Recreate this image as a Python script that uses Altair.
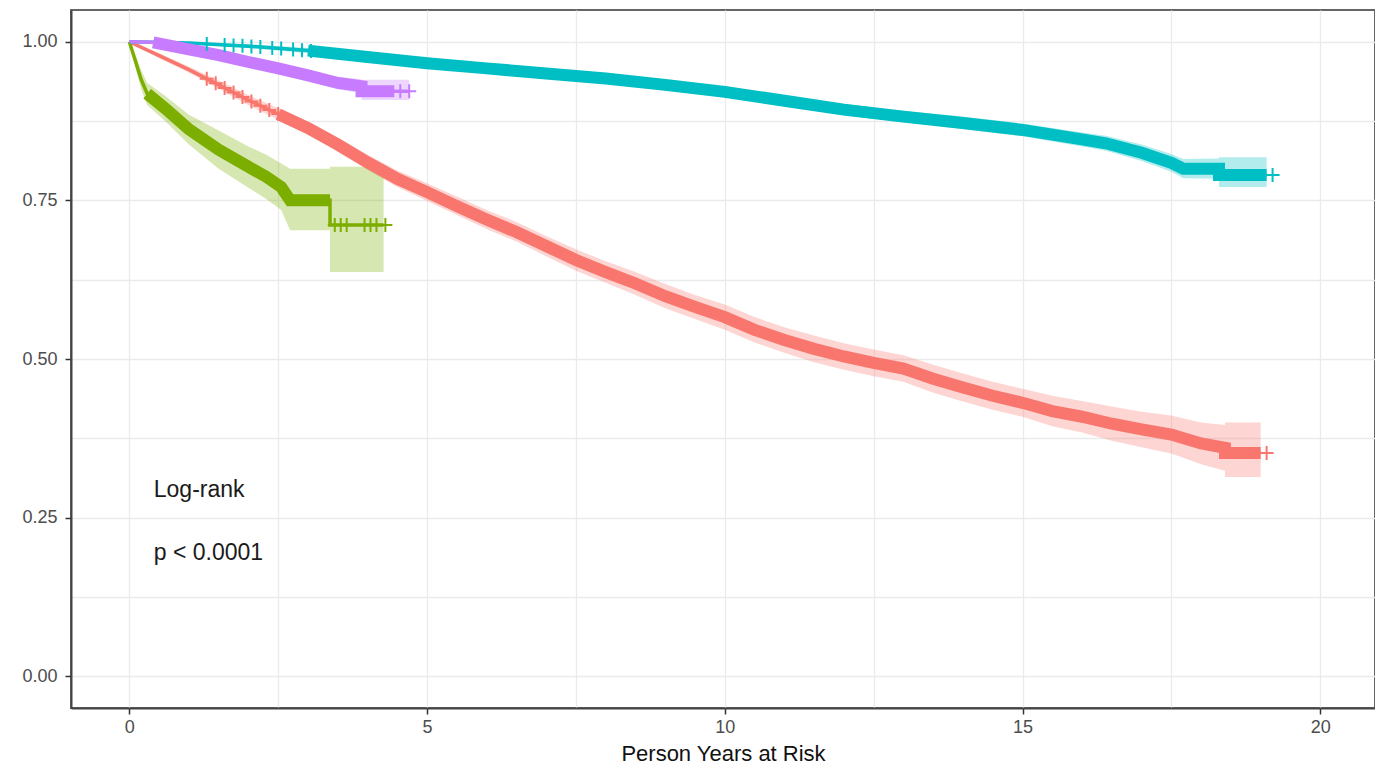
import altair as alt
import pandas as pd
import numpy as np

GROUPS = ["Group 1", "Group 2", "Group 3", "Group 4"]
COLORS = ["#F8766D", "#7CAE00", "#00BFC4", "#C77CFF"]

# Group 1 (red)
g1_time = [0, 0.5, 1, 1.5, 2, 2.5, 3, 3.5, 4, 4.5, 5, 5.5, 6, 6.5, 7, 7.5, 8, 8.5, 9, 9.5,
           10, 10.5, 11, 11.5, 12, 12.5, 13, 13.5, 14, 14.5, 15, 15.5, 16, 16.5, 17, 17.5,
           18, 18.4, 18.4, 19.0]
g1_surv = [1.0, .978, .956, .932, .908, .886, .864, .838, .810, .784, .763, .741, .720, .700,
           .678, .656, .637, .619, .599, .582, .566, .546, .530, .516, .504, .494, .485, .469,
           .455, .442, .431, .418, .409, .398, .389, .381, .367, .360, .352, .352]
g1_lower = [1.0, .974, .951, .926, .900, .877, .854, .827, .798, .771, .749, .727, .705, .685,
            .662, .639, .620, .601, .580, .563, .546, .526, .510, .495, .483, .473, .464, .447,
            .433, .420, .409, .394, .384, .371, .361, .351, .334, .324, .314, .314]
g1_upper = [1.0, .982, .961, .939, .916, .895, .874, .849, .822, .797, .777, .756, .735, .716,
            .694, .673, .654, .637, .618, .601, .586, .566, .550, .537, .525, .515, .506, .491,
            .477, .464, .453, .442, .434, .425, .417, .411, .400, .396, .400, .400]

# Group 2 (green)
g2_time = [0, 0.1, 0.2, 0.3, 0.6, 1.0, 1.5, 2.0, 2.3, 2.55, 2.7, 3.37, 3.37, 4.27]
g2_surv = [1.0, 0.970, 0.940, 0.918, 0.895, 0.862, 0.830, 0.803, 0.787, 0.771, 0.750, 0.750, 0.711, 0.711]
g2_lower = [1.0, 0.960, 0.925, 0.900, 0.875, 0.838, 0.800, 0.770, 0.752, 0.735, 0.703, 0.703, 0.637, 0.637]
g2_upper = [1.0, 0.980, 0.955, 0.935, 0.915, 0.885, 0.860, 0.835, 0.822, 0.808, 0.800, 0.800, 0.803, 0.803]

# Group 3 (teal)
g3_time = [0, 1, 2, 3, 4, 5, 6, 7, 8, 9, 10, 11, 12, 13, 14, 15, 16, 16.4, 17, 17.5, 17.7,
           18.3, 18.3, 19.1]
g3_surv = [1.0, 0.998, 0.993, 0.986, 0.976, 0.966, 0.958, 0.950, 0.942, 0.932, 0.921, 0.907,
           0.893, 0.882, 0.872, 0.861, 0.846, 0.840, 0.825, 0.809, 0.800, 0.800, 0.790, 0.790]
g3_lower = [1.0, 0.996, 0.990, 0.982, 0.971, 0.961, 0.952, 0.944, 0.935, 0.925, 0.913, 0.899,
            0.884, 0.873, 0.862, 0.851, 0.835, 0.828, 0.812, 0.795, 0.785, 0.784, 0.771, 0.771]
g3_upper = [1.0, 1.0, 0.996, 0.990, 0.981, 0.971, 0.964, 0.956, 0.949, 0.939, 0.929, 0.915,
            0.902, 0.891, 0.882, 0.871, 0.857, 0.852, 0.838, 0.823, 0.815, 0.816, 0.818, 0.818]

# Group 4 (purple)
g4_time = [0, 0.4, 1.0, 1.5, 2.0, 2.5, 3.0, 3.5, 3.9, 3.9, 4.45, 4.7]
g4_surv = [1.0, 0.999, 0.988, 0.979, 0.968, 0.958, 0.947, 0.935, 0.930, 0.922, 0.922, 0.922]
g4_lower = [1.0, 0.996, 0.983, 0.973, 0.961, 0.950, 0.938, 0.925, 0.919, 0.908, 0.908, 0.908]
g4_upper = [1.0, 1.0, 0.993, 0.985, 0.975, 0.966, 0.956, 0.945, 0.941, 0.940, 0.940, 0.940]

# censoring times drawn as separate "+" marks (sparse parts of the curves)
g1_censor = [1.3, 1.45, 1.6, 1.75, 1.9, 2.05, 2.2, 2.35, 2.5, 19.1]
g2_censor = [3.45, 3.55, 3.65, 3.95, 4.05, 4.15, 4.3]
g3_censor = [1.3, 1.6, 1.75, 1.9, 2.05, 2.2, 2.4, 2.55, 2.75, 2.9, 3.05, 19.2]
g4_censor = [4.55, 4.7]

# time spans where censor marks are so dense that the curve looks like a thick band
dense_spans = {"Group 1": (2.5, 19.0), "Group 2": (0.3, 3.37),
               "Group 3": (3.0, 19.1), "Group 4": (0.4, 4.45)}

x_ticks = [0, 2.5, 5, 7.5, 10, 12.5, 15, 17.5, 20]
y_ticks = [0, 0.125, 0.25, 0.375, 0.5, 0.625, 0.75, 0.875, 1.0]


def frame(name, t, s, lo, hi):
    return pd.DataFrame({"group": name, "time": t, "surv": s, "lower": lo,
                         "upper": hi, "order": list(range(len(t)))})


curves = pd.concat([
    frame("Group 1", g1_time, g1_surv, g1_lower, g1_upper),
    frame("Group 2", g2_time, g2_surv, g2_lower, g2_upper),
    frame("Group 3", g3_time, g3_surv, g3_lower, g3_upper),
    frame("Group 4", g4_time, g4_surv, g4_lower, g4_upper),
], ignore_index=True)

parts = []
for g, (a, b) in dense_spans.items():
    d = curves[(curves.group == g) & (curves.time >= a) & (curves.time <= b)]
    if len(d) > 1 and d.time.iloc[-1] == d.time.iloc[-2]:
        d = d.iloc[:-1]
    parts.append(d)
thick = pd.concat(parts, ignore_index=True)

cens_rows = []
for g, times in zip(GROUPS, [g1_censor, g2_censor, g3_censor, g4_censor]):
    c = curves[curves.group == g]
    ys = np.interp(times, c.time.values, c.surv.values)
    for t, y in zip(times, ys):
        cens_rows.append({"group": g, "time": t, "surv": float(y)})
cens = pd.DataFrame(cens_rows)

FONT = "Liberation Sans"

x_axis = alt.Axis(
    values=x_ticks, labelExpr="datum.value % 5 == 0 ? format(datum.value, 'd') : ''",
    tickOpacity={"condition": {"test": "datum.value % 5 != 0", "value": 0}, "value": 1},
    title="Person Years at Risk", titleFont=FONT, titleFontSize=22, titleFontWeight="normal",
    titleColor="#111111", titleY=52, titleBaseline="alphabetic",
    labelFont=FONT, labelFontSize=18, labelColor="#4d4d4d", labelPadding=4,
    tickColor="#333333", tickSize=6, tickWidth=1.5,
    domainColor="#444444", domainWidth=2,
    gridColor="#ebebeb", gridWidth=1.3,
)
y_axis = alt.Axis(
    values=y_ticks,
    labelExpr="(datum.value * 8) % 2 == 0 ? format(datum.value, '.2f') : ''",
    tickOpacity={"condition": {"test": "(datum.value * 8) % 2 != 0", "value": 0}, "value": 1},
    title="", labelFont=FONT, labelFontSize=18, labelColor="#4d4d4d", labelPadding=8,
    tickColor="#333333", tickSize=6, tickWidth=1.5,
    domainColor="#444444", domainWidth=2,
    gridColor="#ebebeb", gridWidth=1.3,
)

xs = alt.Scale(domain=[-0.98, 20.92], nice=False, zero=False)
ys_ = alt.Scale(domain=[-0.05, 1.05], nice=False, zero=False)
col = alt.Color("group:N", scale=alt.Scale(domain=GROUPS, range=COLORS), legend=None)

X = alt.X("time:Q", scale=xs, axis=x_axis)

bands = alt.Chart(curves).mark_area(opacity=0.3).encode(
    x=X, y=alt.Y("lower:Q", scale=ys_, axis=y_axis), y2="upper:Q", color=col, detail="group:N"
)
lines = alt.Chart(curves).mark_line(strokeWidth=3.5).encode(
    x=X, y=alt.Y("surv:Q", scale=ys_, axis=y_axis), color=col, detail="group:N", order="order:Q"
)
thick_lines = alt.Chart(thick).mark_line(strokeWidth=12, strokeCap="butt").encode(
    x=X, y=alt.Y("surv:Q", scale=ys_, axis=y_axis), color=col, detail="group:N", order="order:Q"
)
marks = alt.Chart(cens).mark_point(
    shape="M-1,0L1,0M0,-1L0,1", filled=False, size=196, strokeWidth=2, opacity=1
).encode(x=X, y=alt.Y("surv:Q", scale=ys_, axis=y_axis), color=col)

txt1 = alt.Chart(pd.DataFrame({"a": [0]})).mark_text(
    align="left", baseline="alphabetic", font=FONT, fontSize=23, color="#1a1a1a"
).encode(x=alt.datum(0.41), y=alt.datum(0.2823), text=alt.value("Log-rank"))
txt2 = alt.Chart(pd.DataFrame({"a": [0]})).mark_text(
    align="left", baseline="alphabetic", font=FONT, fontSize=23, color="#1a1a1a"
).encode(x=alt.datum(0.41), y=alt.datum(0.183), text=alt.value("p < 0.0001"))

chart = alt.layer(bands, lines, thick_lines, marks, txt1, txt2).properties(
    width=1304, height=698,
    autosize=alt.AutoSizeParams(type="none"),
    padding={"left": 63, "top": 2, "right": 0, "bottom": 58},
    background="white",
).configure_view(stroke="#666666", strokeWidth=2)

chart.save("out.html", embed_options={"renderer": "svg", "actions": False})
